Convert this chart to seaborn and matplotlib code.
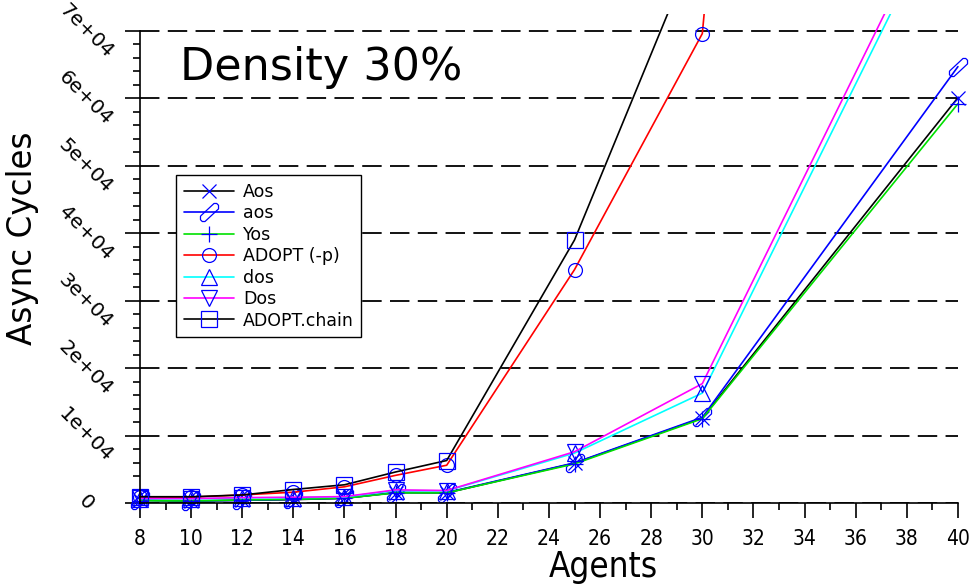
import matplotlib
matplotlib.use("Agg")
import matplotlib.pyplot as plt
import seaborn as sns
from matplotlib.path import Path
from matplotlib.ticker import FixedLocator
from matplotlib.transforms import Bbox, TransformedBbox

agents = [8, 10, 12, 14, 16, 18, 20, 25, 30, 40]

aos_upper = [400, 300, 400, 500, 700, 1550, 1500, 5900, 12600, 60100]    # Aos
aos_lower = [400, 300, 400, 550, 700, 1550, 1550, 5950, 12700, 64700]    # aos
yos = [350, 300, 450, 550, 700, 1500, 1500, 5800, 12500, 59200]
adopt_p = [850, 850, 1200, 1600, 2400, 4100, 5600, 34600, 69600, 480000]
dos_lower = [650, 600, 750, 800, 900, 1850, 1800, 7400, 16300, 92700]   # dos
dos_upper = [700, 650, 800, 850, 950, 1950, 1850, 7600, 17700, 94600]   # Dos
adopt_chain = [930, 930, 1190, 2000, 2700, 4600, 6300, 39000, 85000, 400000]

ytick_vals = [0, 10000, 20000, 30000, 40000, 50000, 60000, 70000]
ytick_labels = ["0", "1e+04", "2e+04", "3e+04", "4e+04", "5e+04", "6e+04", "7e+04"]

# slanted pencil-like marker used for "aos"
pencil = Path([(-1, -0.4), (-1, -0.8), (-0.8, -1), (-0.5, -1), (1, 0.4),
               (1, 0.8), (0.8, 1), (0.5, 1), (-1, -0.4)])

sns.set_style("white")
plt.rcParams["font.family"] = ["DejaVu Sans"]
plt.rcParams["lines.scale_dashes"] = False
for k in ["text.color", "axes.labelcolor", "xtick.color", "ytick.color"]:
    plt.rcParams[k] = "black"

fig = plt.figure(figsize=(9.74, 5.87), dpi=100)
ax = fig.add_axes([0.1437, 0.1431, 0.8398, 0.8330])

series = [
    ("Aos", aos_upper, "black", "x", 10),
    ("aos", aos_lower, "blue", pencil, 13),
    ("Yos", yos, "#00e000", "+", 12),
    ("ADOPT (-p)", adopt_p, "red", "o", 10),
    ("dos", dos_lower, "cyan", "^", 11),
    ("Dos", dos_upper, "magenta", "v", 11),
    ("ADOPT.chain", adopt_chain, "black", "s", 11),
]
for name, vals, col, mk, ms in series:
    sns.lineplot(x=agents, y=vals, color=col, marker=mk, markersize=ms,
                 markeredgecolor="blue", markerfacecolor="none",
                 markeredgewidth=0.9, linewidth=1.2, label=name, ax=ax)

# let the end markers spill a bit past the left/right edge, but clip at the top
clip = TransformedBbox(Bbox([[-0.03, -0.05], [1.03, 1.0]]), ax.transAxes)
for ln in ax.lines:
    ln.set_clip_box(clip)

ax.set_xlim(8, 40)
ax.set_ylim(0, 72500)
ax.set_xticks(range(8, 41, 2))
ax.xaxis.set_minor_locator(FixedLocator(range(9, 40, 2)))
ax.set_yticks(ytick_vals)
ax.set_yticklabels(ytick_labels, rotation=-45, ha="center", va="center")
ax.yaxis.set_minor_locator(FixedLocator([v for v in range(2000, 70000, 2000) if v % 10000]))

for s in ["top", "right"]:
    ax.spines[s].set_visible(False)
ax.spines["left"].set_bounds(0, 70000)
for s in ["left", "bottom"]:
    ax.spines[s].set_color("black")
    ax.spines[s].set_linewidth(1.2)

ax.yaxis.grid(True, color="black", linestyle=(0, (14, 6)), linewidth=1.3)
ax.xaxis.grid(False)

ax.tick_params(which="major", direction="out", length=11, width=1.2, color="black",
               labelsize=15, left=True, bottom=True)
ax.tick_params(which="minor", direction="out", length=5, width=1.2, color="black",
               left=True, bottom=True)
ax.tick_params(axis="y", which="major", pad=28, labelsize=14.5)
ax.tick_params(axis="x", which="major", pad=8)
for t in ax.get_xticklabels():
    t.set_fontstretch("condensed")

ax.set_xlabel("Agents", fontsize=25, fontstretch="condensed")
ax.set_ylabel("Async Cycles", fontsize=23.5)
ax.xaxis.set_label_coords(0.567, -0.131)
ax.xaxis.label.set_va("center")
ax.yaxis.set_label_coords(-0.143, 0.542)
ax.yaxis.label.set_va("center")

ax.text(9.56, 62700, "Density 30%", fontsize=32, va="baseline", ha="left")

leg = ax.legend(loc="upper left", bbox_to_anchor=(0.044, 0.671), borderaxespad=0,
                fontsize=12.5, labelspacing=0.2, handlelength=2.9, handletextpad=0.5,
                borderpad=0.45, fancybox=False, framealpha=1, edgecolor="black",
                numpoints=1)
leg.get_frame().set_linewidth(1.0)

fig.savefig("out.png", dpi=100)
